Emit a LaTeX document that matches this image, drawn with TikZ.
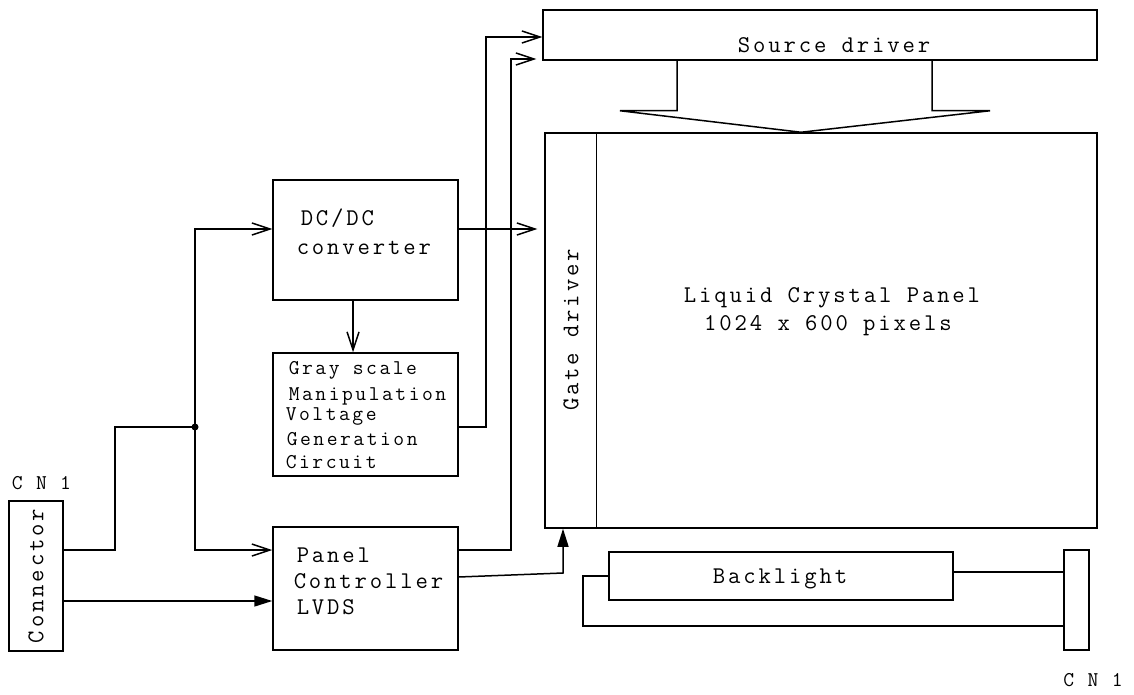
\documentclass[tikz,border=0pt]{standalone}
\usepackage{fontspec}
\newfontfamily\cour[LetterSpace=12]{Latin Modern Mono}
\usetikzlibrary{arrows.meta,calc}
\begin{document}
\begin{tikzpicture}[x=1pt,y=-1pt,
  every path/.style={line width=1.5pt},
  bx/.style={draw,line width=1.5pt,inner sep=0pt},
  txt/.style={inner sep=0pt,font={\cour\fontsize{24pt}{29pt}\selectfont}},
  stxt/.style={inner sep=0pt,font={\cour\fontsize{21pt}{25pt}\selectfont}},
  cntxt/.style={inner sep=0pt,font={\cour\fontsize{21pt}{25pt}\selectfont}},
  oarr/.style={-{Straight Barb[length=18pt,width=12pt]}},
  farr/.style={-{Triangle[length=18pt,width=11pt]}}]
\fill[white] (0,0) rectangle (1134,695);
\useasboundingbox (0,0) rectangle (1134,695);

% boxes
\node[bx,minimum width=54pt,minimum height=150pt] (conn) at (36,576) {};
\node[bx,minimum width=185pt,minimum height=120pt] (dcdc) at (365.5,240) {};
\node[bx,minimum width=185pt,minimum height=123pt] (gray) at (365.5,414.5) {};
\node[bx,minimum width=185pt,minimum height=123pt] (panelc) at (365.5,588.5) {};
\node[bx,minimum width=554pt,minimum height=50pt] (source) at (820,35) {};
\node[bx,minimum width=552pt,minimum height=395pt] (lcd) at (821,330.5) {};
\node[bx,minimum width=344pt,minimum height=48pt] (back) at (781,576) {};
\node[bx,minimum width=25pt,minimum height=100pt] (cnr) at (1076.5,600) {};

% texts
\node[cntxt] (cnl) at (41.5,483) {C N 1};
\node[cntxt] (cnrl) at (1093,680) {C N 1};
\node[txt,rotate=90] (connt) at (conn) {Connector};
\node[txt,anchor=west] (dc1) at (300,218) {DC/DC};
\node[txt,anchor=west] (dc2) at (296,248) {converter};
\node[stxt,anchor=west] (g1t) at (288,370) {Gray scale};
\node[stxt,anchor=west] (g2t) at (288,396) {Manipulation};
\node[stxt,anchor=west] (g3t) at (285,416) {Voltage};
\node[stxt,anchor=west] (g4t) at (286,439) {Generation};
\node[stxt,anchor=west] (g5t) at (285,462) {Circuit};
\node[txt,anchor=west] (pc1) at (296,555) {Panel};
\node[txt,anchor=west] (pc2) at (293,581) {Controller};
\node[txt,anchor=west] (pc3) at (296,607) {LVDS};
\node[txt] (srct) at (834,45) {Source driver};
\node[txt,rotate=90] (gatet) at (571,330) {Gate driver};
\node[txt] (lcd1) at (832,298) {Liquid Crystal Panel};
\node[txt] (lcd2) at (828,326) {1024 x 600 pixels};
\node[txt] (backt) at (780,579) {Backlight};

% gate driver divider
\draw ([xshift=52pt]lcd.north west) -- ([xshift=52pt]lcd.south west);

% connector wiring
\coordinate (j) at (195,427);
\coordinate (k) at (115,427);
\draw ([yshift=26pt]conn.east) -| (k) -- (j);
\fill (j) circle (3.5pt);
\draw[oarr] (j) |- ([yshift=11pt]dcdc.west);
\draw[oarr] (j) |- ([yshift=38.5pt]panelc.west);
\draw[farr] ([yshift=-25pt]conn.east) coordinate (s) -- (s -| panelc.west);

% DC/DC
\draw[oarr] ([xshift=-12.5pt]dcdc.south) -- ([xshift=-12.5pt]gray.north);
\draw[oarr] ([yshift=11pt]dcdc.east) coordinate (d) -- ([xshift=-7pt]d -| lcd.west);

% gray scale -> source driver
\coordinate (gs) at (486,37);
\draw[oarr] ([yshift=-12.5pt]gray.east) -| (gs) -- (gs -| source.west);

% panel controller -> source driver
\coordinate (ps) at (511,59);
\draw[oarr] ([yshift=38.5pt]panelc.east) -| (ps) -- ([xshift=-6pt]ps -| source.west);

% panel controller -> gate driver
\coordinate (pg) at (563,573);
\draw[farr] ([yshift=11.5pt]panelc.east) -- (pg) -- (pg |- lcd.south);

% source driver to panel (big arrow)
\coordinate (sl) at ([xshift=-143pt]source.south);
\coordinate (sr) at ([xshift=112pt]source.south);
\coordinate (tip) at ([xshift=-20pt]lcd.north);
\draw (sl) -- ++(0,50) -- ++(-57,0) -- (tip) -- ($(sr)+(58,50)$) -- ++(-58,0) -- (sr);

% backlight wiring
\draw ([yshift=4pt]back.east) coordinate (be) -- (be -| cnr.west);
\coordinate (bl) at (583,626);
\draw (back.west) -| (bl) -- (bl -| cnr.west);
\end{tikzpicture}
\end{document}
